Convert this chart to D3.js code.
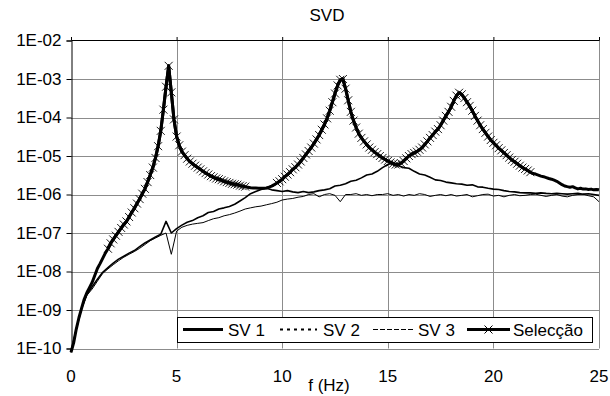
<!DOCTYPE html>
<html>
<head>
<meta charset="utf-8">
<title>SVD</title>
<script src="https://cdn.jsdelivr.net/npm/d3@7"></script>
<style>
  body { margin: 0; background: #fff; }
  svg text { font-family: "Liberation Sans", Arial, sans-serif; fill: #000; }
</style>
</head>
<body>
<script>
// axis ticks
var yTicks = [1e-2, 1e-3, 1e-4, 1e-5, 1e-6, 1e-7, 1e-8, 1e-9, 1e-10];
var yTickLabels = ["1E-02", "1E-03", "1E-04", "1E-05", "1E-06", "1E-07", "1E-08", "1E-09", "1E-10"];
var xTicks = [0, 5, 10, 15, 20, 25];
var seriesNames = ["SV 1", "SV 2", "SV 3", "Selecção"];

// SV 1 sampled every 0.125 Hz (one row per Hz)
var sv1Step = 0.125;
var sv1 = [
  8e-11, 1.4e-10, 3.2e-10, 6.3e-10, 1.1e-9, 1.9e-9, 2.8e-9, 3.8e-9,
  5.2e-9, 7.9e-9, 1.2e-8, 1.6e-8, 2.2e-8, 3.0e-8, 3.9e-8, 5.4e-8,
  6.8e-8, 8.5e-8, 1.07e-7, 1.35e-7, 1.66e-7, 2.0e-7, 2.6e-7, 3.4e-7,
  4.4e-7, 5.8e-7, 7.6e-7, 1.05e-6, 1.4e-6, 2.1e-6, 3.2e-6, 5.0e-6,
  8.9e-6, 1.8e-5, 4.5e-5, 1.6e-4, 6.3e-4, 2.2e-3, 4.5e-4, 8.9e-5,
  3.2e-5, 1.9e-5, 1.3e-5, 1.05e-5, 8.5e-6, 7.2e-6, 6.3e-6, 5.6e-6,
  5.0e-6, 4.5e-6, 4.0e-6, 3.6e-6, 3.3e-6, 3.0e-6, 2.8e-6, 2.6e-6,
  2.5e-6, 2.35e-6, 2.2e-6, 2.1e-6, 2.0e-6, 1.9e-6, 1.85e-6, 1.8e-6,
  1.7e-6, 1.65e-6, 1.6e-6, 1.55e-6, 1.5e-6, 1.48e-6, 1.48e-6, 1.45e-6,
  1.45e-6, 1.45e-6, 1.48e-6, 1.55e-6, 1.65e-6, 1.8e-6, 2.0e-6, 2.2e-6,
  2.5e-6, 2.9e-6, 3.3e-6, 3.8e-6, 4.5e-6, 5.1e-6, 6.0e-6, 7.2e-6,
  8.9e-6, 1.1e-5, 1.35e-5, 1.66e-5, 2.1e-5, 2.7e-5, 3.5e-5, 4.8e-5,
  6.6e-5, 9.5e-5, 1.5e-4, 2.5e-4, 4.2e-4, 6.8e-4, 9.5e-4, 1.0e-3,
  5.6e-4, 2.8e-4, 1.4e-4, 8.3e-5, 5.5e-5, 3.8e-5, 2.95e-5, 2.4e-5,
  2.0e-5, 1.66e-5, 1.45e-5, 1.26e-5, 1.12e-5, 1.0e-5, 8.9e-6, 8.1e-6,
  7.4e-6, 6.8e-6, 6.3e-6, 6.0e-6, 6.0e-6, 6.5e-6, 7.4e-6, 8.7e-6,
  1.0e-5, 1.12e-5, 1.2e-5, 1.3e-5, 1.45e-5, 1.66e-5, 2.0e-5, 2.4e-5,
  2.95e-5, 3.5e-5, 4.3e-5, 5.0e-5, 6.3e-5, 8.3e-5, 1.1e-4, 1.4e-4,
  1.9e-4, 2.7e-4, 3.7e-4, 4.4e-4, 4.0e-4, 3.2e-4, 2.5e-4, 2.0e-4,
  1.5e-4, 1.1e-4, 8.3e-5, 6.3e-5, 5.0e-5, 4.0e-5, 3.2e-5, 2.6e-5,
  2.2e-5, 1.9e-5, 1.6e-5, 1.4e-5, 1.2e-5, 1.05e-5, 9.1e-6, 7.9e-6,
  7.1e-6, 6.3e-6, 5.6e-6, 5.0e-6, 4.6e-6, 4.2e-6, 3.8e-6, 3.5e-6,
  3.4e-6, 3.2e-6, 3.0e-6, 2.9e-6, 2.75e-6, 2.6e-6, 2.5e-6, 2.35e-6,
  2.2e-6, 2.0e-6, 1.8e-6, 1.66e-6, 1.6e-6, 1.55e-6, 1.6e-6, 1.48e-6,
  1.4e-6, 1.45e-6, 1.38e-6, 1.4e-6, 1.35e-6, 1.38e-6, 1.32e-6, 1.35e-6,
  1.32e-6
];

// SV 2 and SV 3 sampled every 0.25 Hz
var svStep = 0.25;
var sv2 = [
  7.9e-11, 3.2e-10, 1.1e-9, 2.5e-9,
  4.0e-9, 6.3e-9, 9.5e-9, 1.26e-8,
  1.66e-8, 2.1e-8, 2.5e-8, 3.0e-8,
  3.5e-8, 4.4e-8, 5.5e-8, 6.6e-8,
  7.9e-8, 9.3e-8, 2.0e-7, 1.0e-7,
  1.3e-7, 1.6e-7, 1.9e-7, 2.1e-7,
  2.5e-7, 2.8e-7, 3.4e-7, 3.6e-7,
  4.2e-7, 4.5e-7, 4.9e-7, 5.6e-7,
  6.8e-7, 8.3e-7, 1.05e-6, 1.2e-6,
  1.35e-6, 1.45e-6, 1.32e-6, 1.26e-6,
  1.2e-6, 1.26e-6, 1.17e-6, 1.12e-6,
  1.2e-6, 1.12e-6, 1.17e-6, 1.26e-6,
  1.32e-6, 1.41e-6, 1.66e-6, 1.74e-6,
  1.9e-6, 2.2e-6, 2.35e-6, 2.7e-6,
  3.2e-6, 3.4e-6, 4.0e-6, 5.0e-6,
  6.0e-6, 6.6e-6, 5.6e-6, 5.0e-6,
  4.8e-6, 4.0e-6, 3.4e-6, 3.2e-6,
  2.8e-6, 2.4e-6, 2.3e-6, 2.1e-6,
  2.0e-6, 1.9e-6, 1.86e-6, 1.74e-6,
  1.78e-6, 1.58e-6, 1.55e-6, 1.45e-6,
  1.38e-6, 1.35e-6, 1.26e-6, 1.2e-6,
  1.17e-6, 1.12e-6, 1.1e-6, 1.1e-6,
  1.07e-6, 1.1e-6, 1.07e-6, 1.05e-6,
  1.07e-6, 1.05e-6, 1.02e-6, 1.05e-6,
  1.07e-6, 1.02e-6, 1.05e-6, 1.0e-6,
  9.5e-7
];
var sv3 = [
  7.9e-11, 3.2e-10, 1.1e-9, 2.4e-9,
  3.5e-9, 5.6e-9, 8.9e-9, 1.17e-8,
  1.5e-8, 1.9e-8, 2.35e-8, 2.8e-8,
  3.3e-8, 4.0e-8, 5.0e-8, 6.3e-8,
  7.4e-8, 8.7e-8, 1.0e-7, 2.8e-8,
  1.12e-7, 1.41e-7, 1.58e-7, 1.7e-7,
  1.78e-7, 1.86e-7, 2.1e-7, 2.35e-7,
  2.5e-7, 2.8e-7, 3.0e-7, 3.3e-7,
  3.7e-7, 4.2e-7, 4.5e-7, 4.8e-7,
  5.0e-7, 5.4e-7, 5.8e-7, 6.3e-7,
  7.2e-7, 7.6e-7, 7.9e-7, 8.5e-7,
  8.9e-7, 1.0e-6, 1.05e-6, 8.7e-7,
  1.0e-6, 1.05e-6, 9.5e-7, 6.5e-7,
  1.0e-6, 1.0e-6, 1.05e-6, 9.5e-7,
  1.0e-6, 9.3e-7, 1.0e-6, 1.0e-6,
  1.05e-6, 9.5e-7, 1.0e-6, 9.1e-7,
  1.0e-6, 9.5e-7, 1.05e-6, 1.0e-6,
  8.9e-7, 9.5e-7, 1.0e-6, 9.3e-7,
  1.0e-6, 9.1e-7, 9.5e-7, 1.0e-6,
  8.7e-7, 9.3e-7, 1.0e-6, 1.02e-6,
  9.1e-7, 9.5e-7, 8.7e-7, 9.5e-7,
  1.0e-6, 9.3e-7, 9.5e-7, 1.0e-6,
  1.02e-6, 9.5e-7, 8.9e-7, 9.5e-7,
  1.0e-6, 9.1e-7, 8.7e-7, 9.5e-7,
  1.0e-6, 1.02e-6, 9.3e-7, 8.7e-7,
  6.5e-7
];

// frequency bands picked for "Selecção" (points of SV 1)
var selRanges = [[1.75, 8.25], [9.75, 21.75]];

var w = 610, h = 396;
var plotL = 71, plotR = 599, plotT = 40.5, plotB = 348.5;

var svg = d3.select("body").append("svg")
    .attr("width", w)
    .attr("height", h);

var x = d3.scaleLinear().domain([0, 25]).range([plotL, plotR]);
var y = d3.scaleLog().domain([1e-10, 1e-2]).range([plotB, plotT]);

var toPts = function(arr, step) {
  return arr.map(function(v, i) { return { f: i * step, v: v }; });
};
var pts1 = toPts(sv1, sv1Step);
var pts2 = toPts(sv2, svStep);
var pts3 = toPts(sv3, svStep);

// grid
svg.append("g").selectAll("line")
    .data(yTicks.slice(1))
    .enter().append("line")
    .attr("x1", plotL).attr("x2", plotR)
    .attr("y1", function(d) { return Math.round(y(d)) + 0.5; })
    .attr("y2", function(d) { return Math.round(y(d)) + 0.5; })
    .attr("stroke", "#8c8c8c");
svg.append("g").selectAll("line")
    .data(xTicks.slice(1))
    .enter().append("line")
    .attr("y1", plotT).attr("y2", plotB)
    .attr("x1", function(d) { return Math.round(x(d)) + 0.5; })
    .attr("x2", function(d) { return Math.round(x(d)) + 0.5; })
    .attr("stroke", "#8c8c8c");

// left axis, and top axis line with small ticks
var yAxis = d3.axisLeft(y).tickValues(yTicks)
    .tickFormat(function(d, i) { return yTickLabels[i]; })
    .tickSize(5).tickPadding(5);
var gy = svg.append("g")
    .attr("transform", "translate(" + (plotL + 0.5) + ",0)")
    .call(yAxis);
gy.select(".domain").attr("stroke", "#000");
gy.selectAll("text").style("font-size", "17px")
    .style("font-family", "'Liberation Sans', Arial, sans-serif");

var xAxisTop = d3.axisTop(x).tickValues(xTicks).tickSize(3).tickFormat("");
svg.append("g")
    .attr("transform", "translate(0," + (plotT - 0.5) + ")")
    .call(xAxisTop)
    .select(".domain").attr("stroke", "#000");

svg.append("g").selectAll("text")
    .data(xTicks)
    .enter().append("text")
    .attr("x", function(d) { return x(d); })
    .attr("y", 382)
    .attr("text-anchor", "middle")
    .style("font-size", "17px")
    .text(function(d) { return d; });

// series
var line = d3.line()
    .x(function(d) { return x(d.f); })
    .y(function(d) { return y(d.v); });

svg.append("path").datum(pts1)
    .attr("d", line).attr("fill", "none")
    .attr("stroke", "#000").attr("stroke-width", 3)
    .attr("stroke-linejoin", "round");
svg.append("path").datum(pts2)
    .attr("d", line).attr("fill", "none")
    .attr("stroke", "#000").attr("stroke-width", 1.6)
    .attr("stroke-linejoin", "round");
svg.append("path").datum(pts3)
    .attr("d", line).attr("fill", "none")
    .attr("stroke", "#000").attr("stroke-width", 1)
    .attr("stroke-linejoin", "round");

var cross = "M-4,-4L4,4M-4,4L4,-4";
selRanges.forEach(function(r) {
  var sel = pts1.filter(function(d) { return d.f >= r[0] && d.f <= r[1]; });
  svg.append("path").datum(sel)
      .attr("d", line).attr("fill", "none")
      .attr("stroke", "#000").attr("stroke-width", 3)
      .attr("stroke-linejoin", "round");
  svg.append("g").selectAll("path")
      .data(sel)
      .enter().append("path")
      .attr("transform", function(d) { return "translate(" + x(d.f) + "," + y(d.v) + ")"; })
      .attr("d", cross)
      .attr("stroke", "#000").attr("stroke-width", 0.9).attr("fill", "none");
});

// titles
svg.append("text")
    .attr("x", 327).attr("y", 21)
    .attr("text-anchor", "middle")
    .style("font-size", "17px")
    .text("SVD");
svg.append("text")
    .attr("x", 329).attr("y", 391)
    .attr("text-anchor", "middle")
    .style("font-size", "17px")
    .text("f (Hz)");

// legend
var lg = svg.append("g");
lg.append("rect")
    .attr("x", 177.5).attr("y", 317.5)
    .attr("width", 415).attr("height", 25)
    .attr("fill", "#fff").attr("stroke", "#000");
var legendItems = [
  { x1: 183, x2: 223, tx: 228, sw: 3, dash: null, mark: false },
  { x1: 280, x2: 317, tx: 323, sw: 2, dash: "3,4", mark: false },
  { x1: 373, x2: 415, tx: 418, sw: 1, dash: "5,2", mark: false },
  { x1: 467, x2: 510, tx: 513, sw: 3, dash: null, mark: true }
];
legendItems.forEach(function(it, i) {
  var ln = lg.append("line")
      .attr("x1", it.x1).attr("x2", it.x2)
      .attr("y1", 329.5).attr("y2", 329.5)
      .attr("stroke", "#000").attr("stroke-width", it.sw);
  if (it.dash) ln.attr("stroke-dasharray", it.dash);
  if (it.mark) {
    lg.append("path")
        .attr("transform", "translate(" + ((it.x1 + it.x2) / 2) + ",329.5)")
        .attr("d", cross)
        .attr("stroke", "#000").attr("fill", "none");
  }
  lg.append("text")
      .attr("x", it.tx).attr("y", 336)
      .style("font-size", "17px")
      .text(seriesNames[i]);
});
</script>
</body>
</html>
